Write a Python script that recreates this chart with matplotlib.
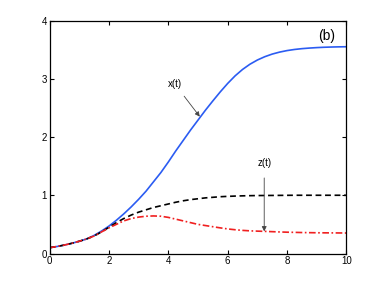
import matplotlib
matplotlib.use('Agg')
import matplotlib.pyplot as plt
import numpy as np

# time samples (step 0.25)
t = [0, 0.25, 0.5, 0.75, 1, 1.25, 1.5, 1.75, 2, 2.25, 2.5, 2.75, 3, 3.25, 3.5, 3.75,
     4, 4.25, 4.5, 4.75, 5, 5.25, 5.5, 5.75, 6, 6.25, 6.5, 6.75, 7, 7.25, 7.5, 7.75,
     8, 8.25, 8.5, 8.75, 9, 9.25, 9.5, 9.75, 10]

# x(t) - blue solid
x_t = [0.10, 0.12, 0.145, 0.175, 0.21, 0.25, 0.31, 0.385, 0.47, 0.57, 0.68, 0.80, 0.93,
       1.07, 1.23, 1.39, 1.57, 1.76, 1.94, 2.12, 2.29, 2.46, 2.62, 2.775, 2.92, 3.05,
       3.16, 3.25, 3.322, 3.379, 3.424, 3.458, 3.484, 3.503, 3.517, 3.527, 3.535, 3.541,
       3.545, 3.548, 3.55]
# y(t) - black dashed
y_t = [0.10, 0.12, 0.145, 0.175, 0.21, 0.25, 0.30, 0.37, 0.45, 0.53, 0.60, 0.66, 0.71,
       0.75, 0.79, 0.82, 0.85, 0.88, 0.905, 0.925, 0.94, 0.955, 0.965, 0.975, 0.981,
       0.986, 0.99, 0.993, 0.995, 0.996, 0.997, 0.998, 0.999, 1.0, 1.0, 1.0, 1.0, 1.0,
       1.0, 1.0, 1.0]
# z(t) - red dash-dot
z_t = [0.10, 0.12, 0.145, 0.175, 0.21, 0.25, 0.30, 0.37, 0.44, 0.50, 0.56, 0.60, 0.625,
       0.64, 0.645, 0.64, 0.62, 0.59, 0.56, 0.53, 0.50, 0.48, 0.46, 0.44, 0.422, 0.408,
       0.397, 0.389, 0.384, 0.38, 0.375, 0.37, 0.366, 0.363, 0.36, 0.358, 0.356, 0.355,
       0.354, 0.353, 0.352]

plt.rcParams['font.family'] = ['Liberation Sans', 'DejaVu Sans']

fig = plt.figure(figsize=(3.82, 2.85), dpi=100)
ax = fig.add_axes([0.1296, 0.1105, 0.7774, 0.8175])

ax.plot(t, x_t, color='#2b5cf2', linewidth=1.2, linestyle='-')
ax.plot(t, y_t, color='black', linewidth=1.2, linestyle=(0, (3.5, 2.2)))
ax.plot(t, z_t, color='#f02020', linewidth=1.2, linestyle=(0, (4, 1.5, 1, 1.5)))

ax.set_xlim(0, 10)
ax.set_ylim(0, 4)
ax.set_xticks([0, 2, 4, 6, 8, 10])
ax.set_yticks([0, 1, 2, 3, 4])
ax.tick_params(direction='in', top=True, right=True, length=3, width=0.8, labelsize=7, pad=2)
for s in ax.spines.values():
    s.set_linewidth(0.9)

ax.annotate('x(t)', xy=(5.06, 2.35), xytext=(4.22, 2.91), fontsize=7, ha='center', va='center',
            arrowprops=dict(arrowstyle='-|>', color='#444444', lw=0.6, mutation_scale=7, shrinkA=4, shrinkB=0))
ax.annotate('z(t)', xy=(7.23, 0.38), xytext=(7.23, 1.55), fontsize=7, ha='center', va='center',
            arrowprops=dict(arrowstyle='-|>', color='#444444', lw=0.6, mutation_scale=7, shrinkA=5, shrinkB=0))
ax.text(9.33, 3.73, '(b)', fontsize=10, ha='center', va='center')

fig.savefig('out.png', dpi=100)
